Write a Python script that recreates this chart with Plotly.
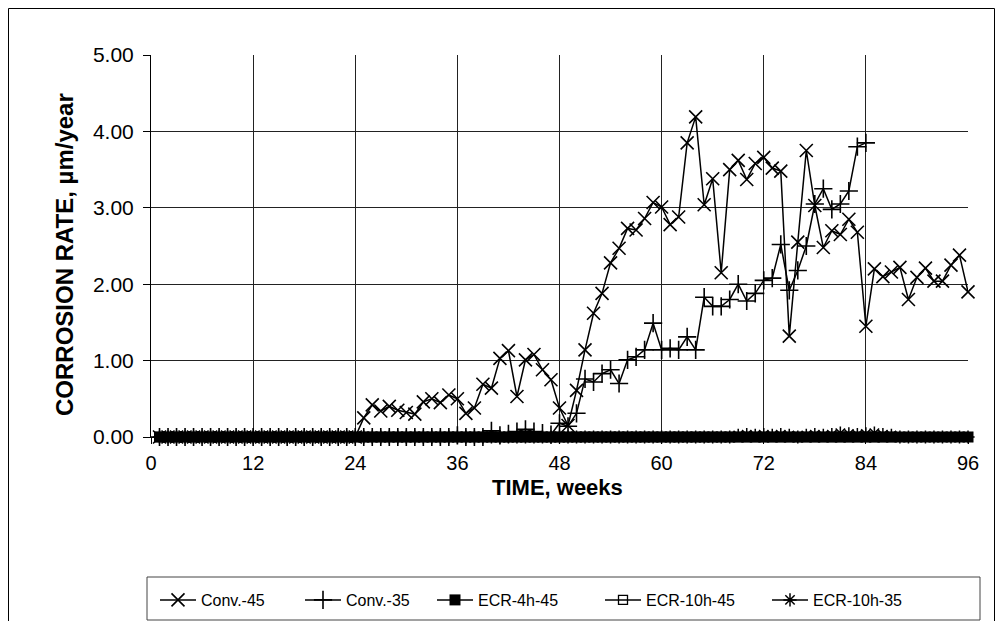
import plotly.graph_objects as go

weeks_all = list(range(1, 97))
weeks_c35 = list(range(1, 85))
weeks_e1045 = list(range(1, 88))

conv45 = [0.0]*24 + [
    0.25, 0.42, 0.34, 0.40, 0.35, 0.32, 0.30, 0.46, 0.50, 0.45, 0.55, 0.50,
    0.31, 0.38, 0.69, 0.64, 1.03, 1.13, 0.53, 1.01, 1.08, 0.88, 0.75, 0.38,
    0.15, 0.61, 1.14, 1.62, 1.88, 2.28, 2.47, 2.73, 2.71, 2.86, 3.07, 3.01,
    2.78, 2.88, 3.85, 4.19, 3.04, 3.38, 2.15, 3.50, 3.62, 3.37, 3.58, 3.66,
    3.52, 3.48, 1.32, 2.55, 3.75, 3.03, 2.48, 2.70, 2.65, 2.85, 2.68, 1.45,
    2.20, 2.10, 2.16, 2.22, 1.80, 2.09, 2.21, 2.04, 2.04, 2.25, 2.38, 1.90]

conv35 = [0.0]*35 + [
    0.02, 0.0, 0.0, 0.0, 0.08, 0.02, 0.04, 0.07, 0.10, 0.07, 0.05, 0.03,
    0.18, 0.14, 0.31, 0.76, 0.72, 0.83, 0.88, 0.70, 1.01, 1.05, 1.14, 1.49,
    1.14, 1.16, 1.14, 1.31, 1.14, 1.83, 1.71, 1.71, 1.80, 2.00, 1.78, 1.88,
    2.05, 2.08, 2.52, 1.92, 2.18, 2.50, 3.05, 3.25, 2.98, 3.05, 3.22, 3.80, 3.85]

ecr4h45 = [0.0]*96
ecr10h45 = [0.0]*87
ecr10h35 = [0.0]*68 + [0.02, 0.03, 0.02, 0.03, 0.02, 0.03, 0.02, 0.0, 0.02, 0.03,
                       0.02, 0.03, 0.05, 0.04, 0.03, 0.04, 0.05, 0.03, 0.02, 0.0,
                       0.0, 0.0, 0.0, 0.0, 0.0, 0.0, 0.0, 0.0]

x_title = "<b>TIME, weeks</b>"
y_title = "<b>CORROSION RATE, µm/year</b>"

FONT = "Liberation Sans, Arial, sans-serif"
W, H = 987, 614            # page body has an 8px margin
L, T = 143, 47
R, B = W - 960, H - 429
pw, ph = W - L - R, H - T - B


def px(xp):
    return (xp - L) / pw


def py(yp):
    return ((H - B) - yp) / ph


fig = go.Figure()
line = dict(color="black", width=1.5)

fig.add_trace(go.Scatter(x=weeks_all, y=ecr4h45, name="ECR-4h-45", mode="lines+markers",
                         line=line, legend="legend3", cliponaxis=False,
                         marker=dict(symbol="square", size=11, color="black")))
fig.add_trace(go.Scatter(x=weeks_e1045, y=ecr10h45, name="ECR-10h-45", mode="lines+markers",
                         line=line, legend="legend4", cliponaxis=False,
                         marker=dict(symbol="square-open", size=9, color="black",
                                     line=dict(width=1.3))))
fig.add_trace(go.Scatter(x=weeks_all, y=ecr10h35, name="ECR-10h-35", mode="lines+markers",
                         line=line, legend="legend5", cliponaxis=False,
                         marker=dict(symbol="asterisk-open", size=11, color="black",
                                     line=dict(width=1.5, color="black"))))
fig.add_trace(go.Scatter(x=weeks_c35, y=conv35, name="Conv.-35", mode="lines+markers",
                         line=line, legend="legend2", cliponaxis=False,
                         marker=dict(symbol="cross-thin-open", size=13,
                                     line=dict(width=1.6, color="black"))))
fig.add_trace(go.Scatter(x=weeks_all, y=conv45, name="Conv.-45", mode="lines+markers",
                         line=line, legend="legend", cliponaxis=False,
                         marker=dict(symbol="x-thin-open", size=13,
                                     line=dict(width=1.6, color="black"))))

leg_common = dict(orientation="h", yanchor="middle", y=py(592), xanchor="left",
                  bgcolor="rgba(0,0,0,0)", borderwidth=0,
                  font=dict(family=FONT, size=16, color="black"), itemwidth=36)
leg_x = [147, 292, 424, 592, 759]

fig.update_layout(
    width=W, height=H,
    margin=dict(l=L, r=R, t=T, b=B, autoexpand=False),
    paper_bgcolor="white", plot_bgcolor="white",
    font=dict(family=FONT, size=20, color="black"),
    showlegend=True,
    legend=dict(leg_common, x=px(leg_x[0])),
    legend2=dict(leg_common, x=px(leg_x[1])),
    legend3=dict(leg_common, x=px(leg_x[2])),
    legend4=dict(leg_common, x=px(leg_x[3])),
    legend5=dict(leg_common, x=px(leg_x[4])),
)
fig.update_xaxes(range=[0, 96], tickmode="linear", tick0=0, dtick=12,
                 showgrid=True, gridcolor="#222", gridwidth=1,
                 showline=True, linecolor="black", linewidth=1,
                 ticks="outside", ticklen=6, tickcolor="black",
                 tickfont=dict(size=20), ticklabelstandoff=2, automargin=False,
                 zeroline=False)
fig.update_yaxes(range=[0, 5], tickmode="linear", tick0=0, dtick=1, tickformat=".2f",
                 showgrid=True, gridcolor="#222", gridwidth=1,
                 showline=True, linecolor="black", linewidth=1,
                 ticks="outside", ticklen=7, tickcolor="black",
                 tickfont=dict(size=21), ticklabelstandoff=5, automargin=False,
                 zeroline=False)

# axis titles
fig.add_annotation(text=x_title, xref="paper", yref="paper", x=px(549), y=py(479),
                   xanchor="center", yanchor="middle", showarrow=False,
                   font=dict(family=FONT, size=22, color="black"))
fig.add_annotation(text=y_title, xref="paper", yref="paper", x=px(56), y=py(247),
                   xanchor="center", yanchor="middle", showarrow=False, textangle=-90,
                   font=dict(family=FONT, size=24, color="black"))

# legend frame
fig.add_shape(type="rect", xref="paper", yref="paper",
              x0=px(139), y0=py(569), x1=px(972), y1=py(612),
              line=dict(color="#444", width=1), fillcolor="rgba(0,0,0,0)")

# outer chart border (left, top, right)
for x0, y0, x1, y1 in [(0.5, 0.5, 0.5, 613), (0.5, 0.5, 986.5, 0.5), (986.5, 0.5, 986.5, 613)]:
    fig.add_shape(type="line", xref="paper", yref="paper",
                  x0=px(x0), y0=py(y0), x1=px(x1), y1=py(y1),
                  line=dict(color="black", width=1))

fig.write_html("out.html")
